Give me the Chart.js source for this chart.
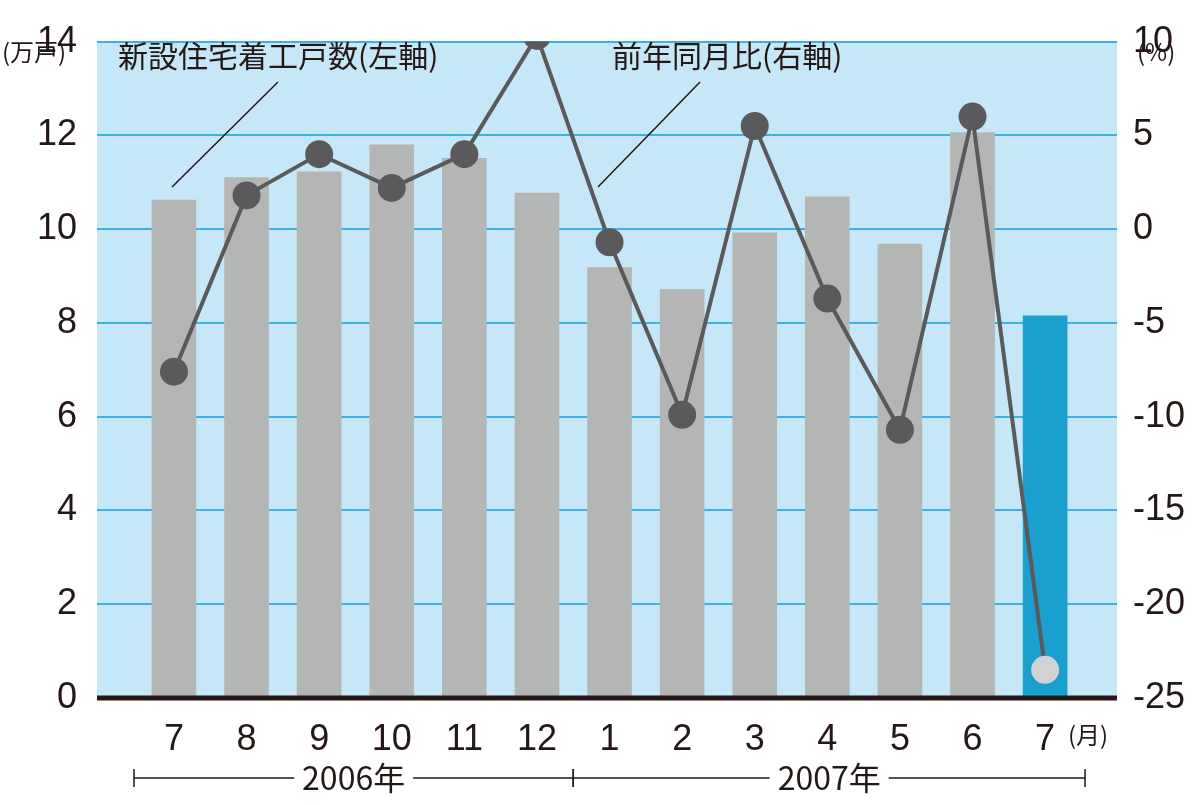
<!DOCTYPE html>
<html><head><meta charset="utf-8">
<script src="https://cdn.jsdelivr.net/npm/chart.js@4/dist/chart.umd.min.js"></script>
<style>html,body{margin:0;padding:0;background:#fff}#c{display:block}</style>
</head><body>
<div style="width:1200px;height:805px"><canvas id="c"></canvas></div>
<script>
var months = ["7","8","9","10","11","12","1","2","3","4","5","6","7"]
var starts = [10.62, 11.10, 11.22, 11.80, 11.51, 10.77, 9.18, 8.71, 9.92, 10.69, 9.68, 12.06, 8.15] // 万戸
var yoy = [-7.6, 1.8, 4.0, 2.2, 4.0, 10.3, -0.7, -9.9, 5.5, -3.7, -10.7, 6.0, -23.5] // %
var years = ["2006年", "2007年"]

var FONT = "'Noto Sans CJK JP', 'Noto Sans', sans-serif"
var NUM = "'Liberation Sans', Arial, sans-serif"
var ink = "#231815"

var barColors = starts.map((v, i) => i == starts.length - 1 ? "#1b9fce" : "#b4b6b6")
var ptColors = yoy.map((v, i) => i == yoy.length - 1 ? "#d0d2d3" : "#5a5a5c")

const extras = {
    id: "extras",
    beforeDraw(chart){
        let a = chart.chartArea, c = chart.ctx
        c.save()
        c.fillStyle = "#c6e7f8"
        c.fillRect(a.left, a.top, a.right - a.left, a.bottom - a.top)
        c.restore()
    },
    afterDraw(chart){
        let c = chart.ctx, x = chart.scales.x, a = chart.chartArea
        c.save()
        // baseline
        c.strokeStyle = ink; c.lineWidth = 5
        c.beginPath(); c.moveTo(a.left, a.bottom); c.lineTo(a.right, a.bottom); c.stroke()
        c.fillStyle = ink
        c.font = "24px " + FONT
        c.textBaseline = "middle"
        c.textAlign = "left"
        c.fillText("(万戸)", 2, 52)
        c.fillText("(%)", 1137, 52)
        c.fillText("(月)", 1068, 735)
        c.font = "30px " + FONT
        c.fillText("新設住宅着工戸数(左軸)", 118, 56)
        c.fillText("前年同月比(右軸)", 612, 56)
        c.strokeStyle = ink; c.lineWidth = 1.5
        c.beginPath(); c.moveTo(278, 82); c.lineTo(172, 187); c.stroke()
        c.beginPath(); c.moveTo(700, 82); c.lineTo(598, 187); c.stroke()
        // year spans
        let y = 778
        let x0 = x.getPixelForValue(-0.55), xm = x.getPixelForValue(5.5), x1 = x.getPixelForValue(12.55)
        c.font = "32px " + FONT
        c.textAlign = "center"
        let spans = [[x0, xm, years[0]], [xm, x1, years[1]]]
        spans.forEach(s => {
            let mid = (s[0] + s[1]) / 2, w = c.measureText(s[2]).width / 2 + 8
            c.beginPath()
            c.moveTo(s[0], y); c.lineTo(mid - w, y)
            c.moveTo(mid + w, y); c.lineTo(s[1], y)
            c.moveTo(s[0], y - 9); c.lineTo(s[0], y + 9)
            c.moveTo(s[1], y - 9); c.lineTo(s[1], y + 9)
            c.stroke()
            c.fillText(s[2], mid, y)
        })
        c.restore()
    }
}

new Chart(document.getElementById("c").getContext("2d"), {
    type: "bar",
    data: {
        datasets: [
        {
            type: "line",
            label: "前年同月比",
            data: yoy.map((v, i) => ({x: i, y: v})),
            yAxisID: "y1",
            borderColor: "#5a5a5c",
            borderWidth: 4,
            pointBackgroundColor: ptColors,
            pointBorderColor: ptColors,
            pointRadius: 12,
            order: 0
        },
        {
            label: "新設住宅着工戸数",
            data: starts.map((v, i) => ({x: i, y: v})),
            yAxisID: "y",
            backgroundColor: barColors,
            barThickness: 44,
            order: 1
        }]
    },
    options: {
        responsive: true,
        maintainAspectRatio: false,
        animation: false,
        layout: {padding: {top: 0, right: 0, left: 0, bottom: 0}},
        plugins: {legend: {display: false}, tooltip: {enabled: false}},
        scales: {
            x: {
                type: "linear", min: -1.06, max: 12.99, offset: false,
                afterBuildTicks: s => { s.ticks = months.map((m, i) => ({value: i})) },
                afterFit: s => { s.height = 107 },
                grid: {display: false}, border: {display: false},
                ticks: {color: ink, font: {family: NUM, size: 36}, padding: 12, autoSkip: false, maxRotation: 0,
                    callback: (v) => months[v]}
            },
            y: {
                position: "left", min: 0, max: 14,
                afterFit: s => { s.width = 97 },
                grid: {color: "#3db2e2", lineWidth: 2, drawTicks: false}, border: {display: false},
                ticks: {stepSize: 2, color: ink, font: {family: NUM, size: 36}, padding: 20}
            },
            y1: {
                position: "right", min: -25, max: 10,
                afterFit: s => { s.width = 83 },
                grid: {display: false}, border: {display: false},
                ticks: {stepSize: 5, color: ink, font: {family: NUM, size: 36}, padding: 8}
            }
        }
    },
    plugins: [extras]
})
</script>
</body></html>
